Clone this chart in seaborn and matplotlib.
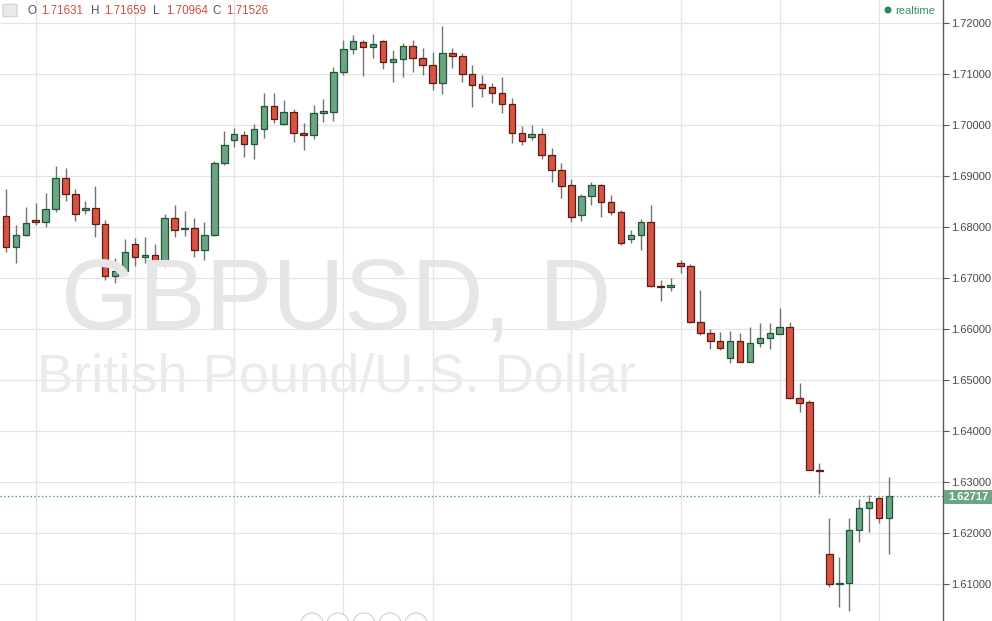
import numpy as np
import pandas as pd
import matplotlib
matplotlib.use("Agg")
import matplotlib.pyplot as plt
import seaborn as sns
from matplotlib.patches import Rectangle, FancyBboxPatch, Ellipse

# daily GBPUSD candles
opens = [1.68212, 1.67610, 1.67834, 1.68133, 1.68089, 1.68343, 1.68951, 1.68637, 1.68324, 1.68363,
         1.68049, 1.67042, 1.67140, 1.67657, 1.67414, 1.67442, 1.67317, 1.68167, 1.67963, 1.67971,
         1.67540, 1.67834, 1.69245, 1.69701, 1.69793, 1.69617, 1.69911, 1.70362, 1.70021, 1.70244,
         1.69833, 1.69805, 1.70225, 1.70244, 1.71028, 1.71479, 1.71631, 1.71518, 1.71647, 1.71224,
         1.71283, 1.71538, 1.71302, 1.71165, 1.70812, 1.71400, 1.71342, 1.70989, 1.70793, 1.70734,
         1.70617, 1.70401, 1.69833, 1.69754, 1.69813, 1.69402, 1.69108, 1.68814, 1.68226, 1.68604,
         1.68814, 1.68477, 1.68284, 1.67755, 1.67840, 1.68089, 1.66840, 1.66815, 1.67297, 1.67232,
         1.66135, 1.65913, 1.65763, 1.65423, 1.65763, 1.65357, 1.65717, 1.65815, 1.65894, 1.66031,
         1.64640, 1.64561, 1.63235, 1.61583, 1.60995, 1.61014, 1.62059, 1.62484, 1.62680, 1.62288]
highs = [1.68735, 1.68036, 1.68394, 1.68461, 1.68657, 1.69198, 1.69147, 1.68735, 1.68506, 1.68806,
         1.68133, 1.67395, 1.67761, 1.67775, 1.67800, 1.67657, 1.68245, 1.68428, 1.68310, 1.68167,
         1.68100, 1.69290, 1.69878, 1.69937, 1.69878, 1.70015, 1.70628, 1.70617, 1.70485, 1.70303,
         1.70029, 1.70387, 1.70505, 1.71138, 1.71661, 1.71765, 1.71659, 1.71779, 1.71665, 1.71465,
         1.71608, 1.71661, 1.71498, 1.71420, 1.71935, 1.71498, 1.71416, 1.71171, 1.70975, 1.70812,
         1.70930, 1.70519, 1.69976, 1.69995, 1.69937, 1.69545, 1.69257, 1.68931, 1.68643, 1.68878,
         1.68839, 1.68623, 1.68330, 1.67938, 1.68147, 1.68428, 1.66958, 1.67003, 1.67350, 1.67271,
         1.66762, 1.65992, 1.65939, 1.65964, 1.65913, 1.66043, 1.66121, 1.66121, 1.66403, 1.66141,
         1.64934, 1.64606, 1.63378, 1.62300, 1.61536, 1.62288, 1.62660, 1.62745, 1.62711, 1.63091]
lows = [1.67512, 1.67297, 1.67820, 1.68036, 1.68002, 1.68296, 1.68512, 1.68120, 1.68245, 1.67795,
        1.66958, 1.66905, 1.67121, 1.67232, 1.67297, 1.66972, 1.67207, 1.67795, 1.67826, 1.67403,
        1.67350, 1.67820, 1.69211, 1.69564, 1.69374, 1.69323, 1.69735, 1.70029, 1.69995, 1.69656,
        1.69505, 1.69715, 1.70060, 1.70080, 1.70975, 1.71387, 1.70964, 1.71314, 1.71087, 1.70844,
        1.70942, 1.71040, 1.70975, 1.70681, 1.70603, 1.71122, 1.70838, 1.70354, 1.70550, 1.70421,
        1.70236, 1.69648, 1.69603, 1.69711, 1.69323, 1.68884, 1.68559, 1.68100, 1.68120, 1.68428,
        1.68198, 1.68222, 1.67644, 1.67689, 1.67546, 1.66827, 1.66552, 1.66748, 1.67101, 1.66109,
        1.65880, 1.65600, 1.65586, 1.65337, 1.65345, 1.65345, 1.65651, 1.65600, 1.65890, 1.64635,
        1.64377, 1.63230, 1.62764, 1.60948, 1.60556, 1.60477, 1.61829, 1.62026, 1.62190, 1.61588]
closes = [1.67610, 1.67834, 1.68069, 1.68089, 1.68343, 1.68951, 1.68637, 1.68245, 1.68363, 1.68049,
          1.67036, 1.67140, 1.67501, 1.67414, 1.67442, 1.67317, 1.68167, 1.67932, 1.67977, 1.67540,
          1.67834, 1.69245, 1.69603, 1.69819, 1.69617, 1.69911, 1.70362, 1.70107, 1.70244, 1.69833,
          1.69805, 1.70225, 1.70270, 1.71028, 1.71479, 1.71636, 1.71526, 1.71583, 1.71224, 1.71283,
          1.71538, 1.71302, 1.71165, 1.70812, 1.71400, 1.71342, 1.70989, 1.70773, 1.70730, 1.70617,
          1.70401, 1.69833, 1.69688, 1.69813, 1.69402, 1.69108, 1.68806, 1.68187, 1.68604, 1.68820,
          1.68477, 1.68284, 1.67677, 1.67840, 1.68100, 1.66840, 1.66815, 1.66854, 1.67232, 1.66135,
          1.65913, 1.65763, 1.65631, 1.65763, 1.65357, 1.65717, 1.65815, 1.65913, 1.66031, 1.64640,
          1.64553, 1.63235, 1.63209, 1.60995, 1.61014, 1.62059, 1.62484, 1.62607, 1.62288, 1.62717]

price_ticks = [1.61, 1.62, 1.63, 1.64, 1.65, 1.66, 1.67, 1.68, 1.69, 1.70, 1.71, 1.72]
date_grid = [3, 13, 23, 34, 43, 57, 68, 78, 88]  # candle indices with vertical grid lines
last_price = 1.62717
header = [("O", "1.71631"), ("H", "1.71659"), ("L", "1.70964"), ("C", "1.71526")]

UP, DOWN = "#6ba583", "#d75442"
UP_EDGE, DOWN_EDGE = "#225437", "#5b1a13"
WICK = "#737375"
GRID = "#e4e4e4"

sns.set_theme(style="white")
plt.rcParams['font.family'] = ['Liberation Sans', 'DejaVu Sans']

df = pd.DataFrame({"open": opens, "high": highs, "low": lows, "close": closes})
df["x"] = np.arange(len(df))
df["up"] = df["close"] > df["open"]

W, H = 992, 621
fig = plt.figure(figsize=(W / 100, H / 100), dpi=100)
ax = fig.add_axes([0, 0, 943 / W, 1])

def fx(px):
    return px / W

def fy(py):
    return 1 - py / H

# watermark
fig.text(fx(61), fy(329), "GBPUSD, D", fontsize=72, color="#e6e6e6", va="baseline", zorder=0)
fig.text(fx(37), fy(392), "British Pound/U.S. Dollar", fontsize=39, color="#ebebeb",
         va="baseline", zorder=0)
ax.patch.set_alpha(0)

for g in date_grid:
    ax.axvline(g, color=GRID, lw=0.9, zorder=1)
for p in price_ticks:
    ax.axhline(p, color=GRID, lw=0.9, zorder=1)

# wicks then bodies
ax.vlines(df["x"], df["low"], df["high"], color=WICK, lw=1.0, zorder=2)
bottom = np.minimum(df["open"], df["close"])
height = np.maximum((df["close"] - df["open"]).abs(), 0.00004)
ax.bar(df["x"], height, bottom=bottom, width=0.66,
       color=np.where(df["up"], UP, DOWN),
       edgecolor=np.where(df["up"], UP_EDGE, DOWN_EDGE), linewidth=0.9, zorder=3)

ax.axhline(last_price, color="#4f9c89", lw=0.9, ls=(0, (1.2, 1.8)), zorder=4)

ax.set_xlim(-0.605, 94.46)
ax.set_ylim(1.60275, 1.72445)
ax.set_xticks([])
ax.yaxis.tick_right()
ax.set_yticks(price_ticks)
ax.set_yticklabels([f"{p:.5f}" for p in price_ticks])
ax.tick_params(axis="y", right=True, length=4, width=0.8, color="#555555",
               labelsize=8, labelcolor="#4a4a4a", pad=2)
for s in ["left", "top", "bottom"]:
    ax.spines[s].set_visible(False)
ax.spines["right"].set_color("#5a5a5a")
ax.spines["right"].set_linewidth(1.0)

# last price tag
fig.add_artist(Rectangle((fx(944), fy(503.5)), fx(48), 14 / H, transform=fig.transFigure,
                         facecolor="#6ba583", edgecolor="none", zorder=5))
fig.text(fx(968), fy(496.5), f"{last_price:.5f}", color="white", fontsize=8, weight="bold",
         ha="center", va="center", zorder=6)

# header legend
fig.add_artist(FancyBboxPatch((fx(4), fy(16)), fx(12), 11 / H,
                              boxstyle="round,pad=0.001", transform=fig.transFigure,
                              facecolor="#e9e9e9", edgecolor="#cfcfcf", lw=0.8))
xs = [27, 90.5, 152.5, 212.5]
for (lab, val), x0 in zip(header, xs):
    fig.text(fx(x0), fy(11.5), lab, fontsize=8.4, color="#555555", va="center")
    fig.text(fx(x0 + 14), fy(11.5), val, fontsize=8.4, color="#c9503f", va="center")

fig.add_artist(Ellipse((fx(888), fy(10)), fx(7), 7 / H, transform=fig.transFigure,
                       facecolor="#2e8a5a", edgecolor="none"))
fig.text(fx(895), fy(10.5), "realtime", fontsize=8, color="#3a8f5e", va="center")

# nav buttons peeking at the bottom
for cx in [312, 338, 364, 390, 416]:
    fig.add_artist(Ellipse((fx(cx), fy(624)), fx(22), 22 / H, transform=fig.transFigure,
                           facecolor="white", edgecolor="#d0d0d0", lw=0.8, zorder=6))

fig.savefig("out.png", dpi=100)
